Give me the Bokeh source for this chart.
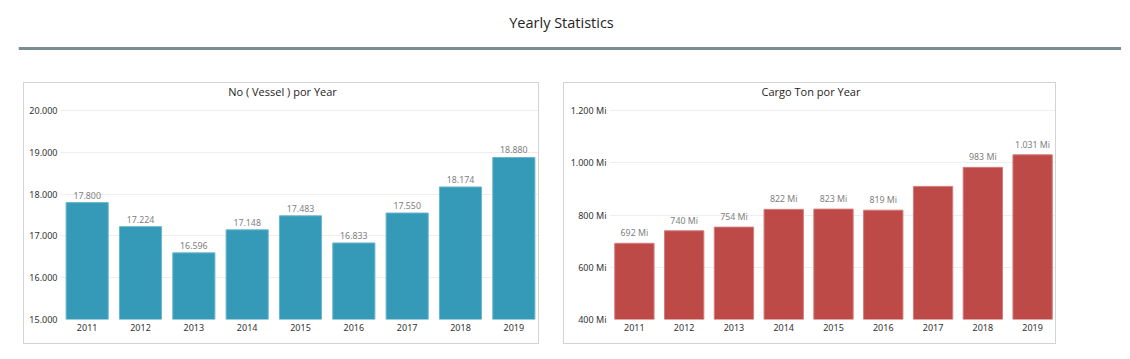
from bokeh.plotting import figure
from bokeh.layouts import column, row
from bokeh.models import Spacer, ColumnDataSource, FixedTicker, Range1d, FactorRange, Label, Span
from bokeh.embed import file_html
from bokeh.resources import INLINE
from bokeh.core.properties import value

# ---------------- data ----------------
years = ["2011", "2012", "2013", "2014", "2015", "2016", "2017", "2018", "2019"]
vessels = [17800, 17224, 16596, 17148, 17483, 16833, 17550, 18174, 18880]
vessel_labels = ["17.800", "17.224", "16.596", "17.148", "17.483", "16.833", "17.550", "18.174", "18.880"]
cargo_mi = [692, 740, 754, 822, 823, 819, 910, 983, 1031]
cargo_labels = ["692 Mi", "740 Mi", "754 Mi", "822 Mi", "823 Mi", "819 Mi", "", "983 Mi", "1.031 Mi"]
vessel_ticks = [15000, 16000, 17000, 18000, 19000, 20000]
vessel_tick_labels = ["15.000", "16.000", "17.000", "18.000", "19.000", "20.000"]
cargo_ticks = [400, 600, 800, 1000, 1200]
cargo_tick_labels = ["400 Mi", "600 Mi", "800 Mi", "1.000 Mi", "1.200 Mi"]

FONT = "Noto Sans"
TFONT = "Open Sans"

# ---------------- header ----------------
header = figure(width=1103, height=82, x_range=Range1d(0, 1103), y_range=Range1d(82, 0),
                x_axis_type=None, y_axis_type=None, toolbar_location=None,
                output_backend="svg", min_border=0, outline_line_color=None)
header.grid.visible = False
header.add_layout(Label(x=543, y=22, text="Yearly Statistics", text_align="center",
                        text_baseline="middle", text_font=TFONT, text_font_size="14.5px",
                        text_color="#252423"))
header.add_layout(Span(location=48, dimension="width", line_color="#7a8c94", line_width=3))

PANEL_H = 262
BOTTOM = 26
TOP_PAD = 27      # px between panel top and the highest tick
TITLE_Y = 8       # px between panel top and title centre


def panel(title, vals, labels, ticks, tick_labels, y0, y1, color, edge, w, left):
    inner_h = PANEL_H - 2
    span_px = inner_h - BOTTOM - TOP_PAD
    per_px = (y1 - y0) / span_px
    y_end = y1 + TOP_PAD * per_px
    src = ColumnDataSource(dict(year=years, val=vals, label=labels))
    p = figure(x_range=FactorRange(*years), y_range=Range1d(y0, y_end), width=w, height=PANEL_H,
               output_backend="svg", toolbar_location=None,
               min_border_left=left, min_border_right=0, min_border_top=0,
               min_border_bottom=BOTTOM, outline_line_color=None,
               styles={"border": "1px solid #d3d3d3"})
    frame_w = (w - 2) - left
    x_off = (w - 2) / 2 - (left + frame_w / 2)
    p.add_layout(Label(x=len(years) / 2, y=y_end - TITLE_Y * per_px, x_offset=x_off, text=title,
                       text_align="center", text_baseline="middle", text_font=TFONT,
                       text_font_size="11px", text_color="#252423"))
    p.vbar(x="year", top="val", bottom=y0, width=0.79, fill_color=color,
           line_color=edge, line_width=1, source=src)
    p.text(x="year", y="val", text="label", source=src, text_align="center",
           text_baseline="bottom", y_offset=-4, text_font=value(FONT),
           text_font_size="8.8px", text_color="#808080")
    p.yaxis.ticker = FixedTicker(ticks=ticks)
    p.yaxis.major_label_overrides = dict(zip(ticks, tick_labels))
    for ax in (p.xaxis[0], p.yaxis[0]):
        ax.axis_line_color = None
        ax.major_tick_line_color = None
        ax.minor_tick_line_color = None
        ax.major_tick_out = 0
        ax.major_tick_in = 0
        ax.minor_tick_out = 0
        ax.major_label_text_font = FONT
        ax.major_label_text_font_size = "9px"
        ax.major_label_text_color = "#333333"
    p.yaxis.major_label_standoff = 3
    p.xaxis.major_label_standoff = 4
    p.xgrid.grid_line_color = None
    p.ygrid.grid_line_color = "#eeeeee"
    return p


left = panel("No ( Vessel ) por Year", vessels, vessel_labels, vessel_ticks, vessel_tick_labels,
             15000, 20000, "#3599b8", "#6cb6cc", 516, 36)
right = panel("Cargo Ton por Year", cargo_mi, cargo_labels, cargo_ticks, cargo_tick_labels,
              400, 1200, "#be4a47", "#d27d7b", 493, 45)

layout = column(row(Spacer(width=18, height=82), header),
                row(Spacer(width=23, height=PANEL_H), left, Spacer(width=24, height=PANEL_H), right))

open("out.html", "w").write(file_html(layout, INLINE))
